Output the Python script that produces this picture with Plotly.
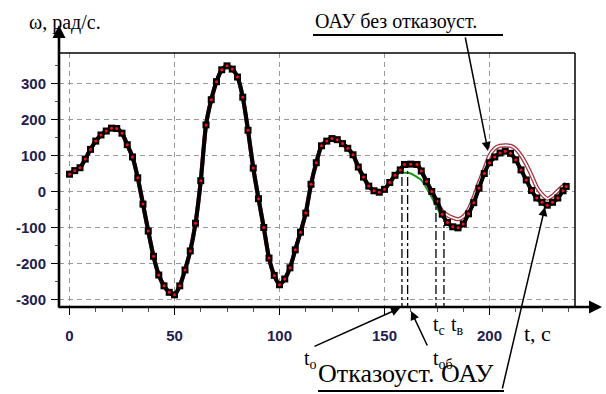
import plotly.graph_objects as go

# ---------------- data ----------------
t_common = [0, 2.5, 5, 7.5, 10, 12.5, 15, 17.5, 20, 22.5, 25, 27.5, 30, 32.5, 35, 37.5,
            40, 42.5, 45, 47.5, 50, 52.5, 55, 57.5, 60, 62.5, 65, 67.5, 70, 72.5, 75, 77.5,
            80, 82.5, 85, 87.5, 90, 92.5, 95, 97.5, 100, 102.5, 105, 107.5, 110, 112.5, 115, 117.5,
            120, 122.5, 125, 127.5, 130, 132.5, 135, 137.5, 140, 142.5, 145, 147.5, 150, 152.5, 155]
w_common = [48, 58, 66, 90, 117, 140, 157, 168, 176, 175, 162, 130, 96, 38, -35, -110,
            -180, -232, -262, -280, -287, -262, -218, -165, -88, 30, 185, 255, 305, 338, 349, 340,
            318, 262, 170, 65, -20, -100, -185, -233, -259, -243, -212, -162, -113, -60, 20, 80,
            127, 140, 147, 144, 133, 120, 102, 68, 40, 15, 2, -2, 6, 25, 45]

# fault-tolerant system (black / red markers)
t_ft = [157.5, 159.5, 162.5, 165.5, 167.5, 170, 172.5, 175, 177.5, 180, 182.5, 185, 187.5, 190,
        192.5, 195, 197.5, 200, 202.5, 205, 207.5, 210, 212.5, 215, 217.5, 220, 222.5, 225,
        227.5, 230, 232.5, 235, 236.5]
w_ft = [60, 75, 76, 75, 57, 28, 0, -27, -63, -86, -98, -101, -90, -62,
        -31, 9, 50, 80, 96, 107, 112, 106, 88, 60, 32, 3, -18, -30,
        -38, -30, -18, 2, 14]

# green curve
t_gr = [157.5, 160, 162.5, 165, 167.5, 170, 172.5, 175, 177.5, 180, 182.5, 185, 187.5, 190,
        192.5, 195, 197.5, 200, 202.5, 205, 207.5, 210, 212.5, 215, 217.5, 220, 222.5, 225,
        227.5, 230, 232.5, 235, 236.5]
w_gr = [52, 52, 50, 42, 32, 9, -16, -45, -70, -90, -103, -106, -95, -67,
        -36, 4, 45, 75, 91, 102, 107, 101, 83, 55, 27, -2, -23, -35,
        -43, -35, -23, -3, 9]

# system without fault tolerance (maroon)
t_nf = [175, 177.5, 180, 182.5, 185, 187.5, 190, 192.5, 195, 197.5, 200, 202.5, 205, 207.5,
        210, 212.5, 215, 217.5, 220, 222.5, 225, 227.5, 230, 232.5, 235, 236.5]
w_nf = [-30, -55, -66, -73, -77, -70, -50, -16, 25, 62, 100, 120, 127, 128,
        127, 118, 100, 75, 45, 12, -8, -20, -12, 2, 15, 22]

# event times (t_o, t_ob, t_c, t_v) and curve level at which their marker lines end
event_t = [158.3, 161.0, 174.5, 178.3]
event_top = [58, 76, -18, -62]

x_tickvals = [0, 50, 100, 150, 200]
x_ticktext = ["0", "50", "100", "150", "200"]
y_tickvals = [-300, -200, -100, 0, 100, 200, 300]
y_ticktext = ["-300", "-200", "-100", "0", "100", "200", "300"]

# ---------------- layout geometry (pixels) ----------------
W, H = 606, 394
L, R, T, B = 59, 575, 53, 307
PW, PH = R - L, B - T


def px(x):
    return (x - L) / PW


def py(y):
    return (B - y) / PH


black_t = t_common + t_ft
black_w = w_common + w_ft
green_t = t_common + t_gr
green_w = w_common + w_gr
ncut = t_ft.index(172.5)
nf_t = t_common + t_ft[:ncut + 1] + t_nf
nf_w = w_common + w_ft[:ncut + 1] + w_nf

fig = go.Figure()
fig.add_trace(go.Scatter(x=green_t, y=green_w, mode="lines",
                         line=dict(color="#1a9a1a", width=2, shape="spline", smoothing=0.6),
                         hoverinfo="skip", showlegend=False))
fig.add_trace(go.Scatter(x=nf_t, y=nf_w, mode="lines",
                         line=dict(color="#a8303c", width=4.2, shape="spline", smoothing=0.6),
                         hoverinfo="skip", showlegend=False))
fig.add_trace(go.Scatter(x=nf_t, y=nf_w, mode="lines",
                         line=dict(color="#ffffff", width=1.6, shape="spline", smoothing=0.6),
                         hoverinfo="skip", showlegend=False))
fig.add_trace(go.Scatter(x=black_t, y=black_w, mode="lines+markers",
                         line=dict(color="#000000", width=4, shape="spline", smoothing=0.6),
                         marker=dict(symbol="square", size=7, color="#000000"),
                         hoverinfo="skip", showlegend=False))
fig.add_trace(go.Scatter(x=black_t, y=black_w, mode="markers",
                         marker=dict(symbol="circle", size=3, color="#ff1010"),
                         hoverinfo="skip", showlegend=False))

shapes = []
for et, etop in zip(event_t, event_top):
    shapes.append(dict(type="line", xref="x", yref="y", x0=et, x1=et, y0=-335, y1=etop,
                       line=dict(color="#000000", width=1.3, dash="dashdot")))
# frame top and right
shapes.append(dict(type="line", xref="paper", yref="paper", x0=0, x1=1, y0=1, y1=1,
                   line=dict(color="#000000", width=1.5)))
shapes.append(dict(type="line", xref="paper", yref="paper", x0=1, x1=1, y0=0, y1=1,
                   line=dict(color="#000000", width=1.5)))
# underlines
shapes.append(dict(type="line", xref="paper", yref="paper", x0=px(313), x1=px(503), y0=py(35), y1=py(35),
                   line=dict(color="#000000", width=2)))
shapes.append(dict(type="line", xref="paper", yref="paper", x0=px(318), x1=px(504), y0=py(391), y1=py(391),
                   line=dict(color="#000000", width=2)))

serif = "Liberation Serif, Times New Roman, serif"
ann = []


def arrow(tip, tail, width=1.5, head=2, size=1.2):
    ann.append(dict(xref="paper", yref="paper", x=px(tip[0]), y=py(tip[1]),
                    ax=tail[0] - tip[0], ay=tail[1] - tip[1], axref="pixel", ayref="pixel",
                    text="", showarrow=True, arrowhead=head, arrowsize=size,
                    arrowwidth=width, arrowcolor="#000000"))


def label(text, x, y, size=20, anchor="left"):
    ann.append(dict(xref="paper", yref="paper", x=px(x), y=py(y), text=text, showarrow=False,
                    xanchor=anchor, yanchor="middle", font=dict(family=serif, size=size, color="#000000")))


# axis arrows
arrow((602, 307), (57, 307), width=2.6, head=2, size=1.0)
arrow((59, 25), (59, 309), width=2.6, head=2, size=1.0)
# pointer arrows
arrow((488, 151), (465, 36))
arrow((545, 207), (502, 390))
arrow((400, 308), (313, 347))
arrow((411, 311), (428, 347))

label("ω, рад/с.", 27, 22)
label("ОАУ без отказоуст.", 313, 21)
label("Отказоуст. ОАУ", 316, 373, size=26)
label("t, c", 522, 333, size=22)
label("t<sub>c</sub>", 431, 325)
label("t<sub>в</sub>", 449, 325)
label("t<sub>o</sub>", 302, 359)
label("t<sub>об</sub>", 431, 359)

tickfont = dict(family="Liberation Sans, Arial, sans-serif", size=15, color="#1e2050", weight="bold")
fig.update_layout(
    width=W, height=H,
    margin=dict(l=L, r=W - R, t=T, b=H - B, pad=0),
    paper_bgcolor="#ffffff", plot_bgcolor="#ffffff",
    shapes=shapes, annotations=ann,
    xaxis=dict(range=[-5, 240.7], tickmode="array", tickvals=x_tickvals, ticktext=x_ticktext,
               showgrid=True, gridcolor="#9a9a9a", gridwidth=1.3, griddash="5px,4px",
               zeroline=False, showline=False, ticks="outside", ticklen=7, tickwidth=1.2,
               tickcolor="#000000", tickfont=tickfont, ticklabelstandoff=8,
               minor=dict(tickmode="linear", tick0=0, dtick=12.5, ticks="outside", ticklen=4,
                          tickcolor="#555555", showgrid=False)),
    yaxis=dict(range=[-320.8, 384.7], tickmode="array", tickvals=y_tickvals, ticktext=y_ticktext,
               showgrid=True, gridcolor="#9a9a9a", gridwidth=1.3, griddash="5px,4px",
               zeroline=False, showline=False, ticks="outside", ticklen=7, tickwidth=1.2,
               tickcolor="#000000", tickfont=tickfont, ticklabelstandoff=2,
               minor=dict(tickmode="linear", tick0=0, dtick=50, ticks="outside", ticklen=3,
                          tickcolor="#555555", showgrid=False)),
)

fig.write_html("out.html", config={"displayModeBar": False},
               post_script="document.body.style.margin='0';document.body.style.overflow='hidden';")
